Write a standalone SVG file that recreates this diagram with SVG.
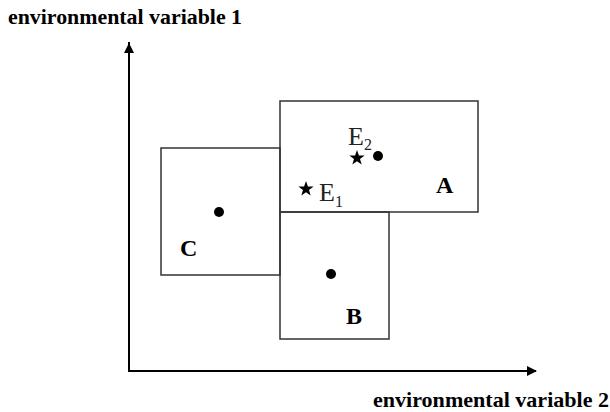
<svg xmlns="http://www.w3.org/2000/svg" width="610" height="412" viewBox="0 0 610 412">
<style>
.box{fill:none;stroke:#333;stroke-width:1.5}
.ax{fill:none;stroke:#000;stroke-width:2}
.lbl{font-family:"Liberation Serif",serif;font-weight:bold;font-size:22px;fill:#000}
.big{font-family:"Liberation Serif",serif;font-weight:bold;font-size:24px;fill:#000}
.e{font-family:"Liberation Serif",serif;font-size:26px;fill:#222}
.sub{font-size:16px}
.dot{fill:#000}
</style>
<defs>
<marker id="arr" viewBox="0 0 10 10" refX="9" refY="5" markerWidth="5" markerHeight="5" orient="auto" markerUnits="strokeWidth">
<path d="M0,0 L10,5 L0,10 z" fill="#000"/>
</marker>
<polygon id="star" points="0,-8 1.9,-2.6 7.6,-2.5 3,0.9 4.7,6.5 0,3.2 -4.7,6.5 -3,0.9 -7.6,-2.5 -1.9,-2.6" fill="#000"/>
</defs>
<g id="connectors">
<polyline class="ax" points="129,42 129,371 536,371" marker-end="url(#arr)"/>
<line class="ax" x1="129" y1="371" x2="129" y2="44" marker-end="url(#arr)"/>
</g>
<g id="title-y"><text class="lbl" x="8" y="24" textLength="234" lengthAdjust="spacingAndGlyphs">environmental variable 1</text></g>
<g id="title-x"><text class="lbl" x="373" y="407" textLength="236" lengthAdjust="spacingAndGlyphs">environmental variable 2</text></g>
<g id="A">
<rect class="box" x="280" y="101" width="198" height="111"/>
<circle class="dot" cx="378" cy="156" r="5"/>
<text class="big" x="436" y="193">A</text>
</g>
<g id="C">
<rect class="box" x="161" y="148" width="119" height="127"/>
<circle class="dot" cx="219" cy="212" r="5"/>
<text class="big" x="180" y="256">C</text>
</g>
<g id="B">
<rect class="box" x="280" y="212" width="109" height="127"/>
<circle class="dot" cx="331" cy="274" r="5"/>
<text class="big" x="346" y="324">B</text>
</g>
<g id="E2">
<use href="#star" x="357" y="158"/>
<text class="e" x="348" y="145">E<tspan class="sub" dy="5">2</tspan></text>
</g>
<g id="E1">
<use href="#star" x="306" y="189"/>
<text class="e" x="319" y="201">E<tspan class="sub" dy="6">1</tspan></text>
</g>
</svg>
